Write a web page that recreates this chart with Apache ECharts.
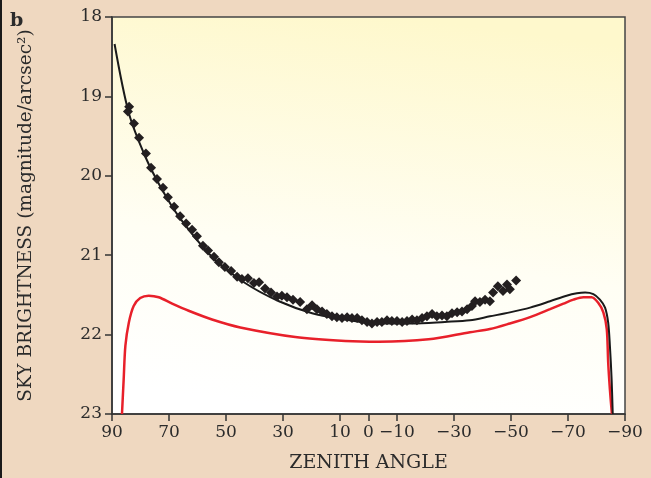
<!DOCTYPE html>
<html>
<head>
<meta charset="utf-8">
<script src="https://cdn.jsdelivr.net/npm/echarts@6/dist/echarts.min.js"></script>
<style>
  html, body { margin: 0; padding: 0; background: #efd8c0; }
  #chart { width: 651px; height: 478px; }
</style>
</head>
<body>
<div id="chart"></div>
<script>
// zenith angle ticks (90 on the left, -90 on the right)
const xTicks = [90, 70, 50, 30, 10, 0, -10, -30, -50, -70, -90]
const yMin = 18
const yMax = 23

// measured sky brightness [zenith angle, magnitude/arcsec^2]
const observed = [
  [84.0, 19.13], [84.4, 19.19], [82.3, 19.34], [80.5, 19.52], [78.1, 19.72],
  [76.3, 19.90], [74.2, 20.04], [72.1, 20.15], [70.4, 20.27], [68.2, 20.39],
  [66.1, 20.51], [64.0, 20.60], [61.9, 20.68], [60.2, 20.76], [58.1, 20.88],
  [56.3, 20.94], [54.2, 21.02], [52.5, 21.09], [50.4, 21.15], [48.2, 21.20],
  [46.1, 21.27], [44.4, 21.30], [42.3, 21.29], [40.2, 21.35], [38.4, 21.34],
  [36.3, 21.42], [34.2, 21.47], [32.1, 21.52], [30.4, 21.51], [28.6, 21.53],
  [26.5, 21.56], [24.0, 21.59], [21.6, 21.68], [19.8, 21.63], [18.1, 21.68],
  [16.3, 21.71], [14.6, 21.74], [12.8, 21.77], [11.1, 21.78], [9.3, 21.79],
  [7.5, 21.78], [5.8, 21.79], [4.0, 21.79], [2.3, 21.82], [0.5, 21.84],
  [-1.2, 21.86], [-3.0, 21.84], [-4.7, 21.84], [-6.5, 21.82], [-8.2, 21.83],
  [-10.0, 21.83], [-11.8, 21.84], [-13.5, 21.83], [-15.3, 21.81], [-17.0, 21.82],
  [-18.8, 21.79], [-20.5, 21.77], [-22.3, 21.74], [-24.0, 21.77], [-25.8, 21.76],
  [-27.5, 21.77], [-29.3, 21.73], [-31.1, 21.72], [-32.8, 21.71], [-34.6, 21.68],
  [-36.3, 21.64], [-37.4, 21.58], [-39.1, 21.59], [-40.9, 21.56], [-42.6, 21.58],
  [-43.7, 21.47], [-45.4, 21.39], [-47.2, 21.45], [-48.6, 21.37], [-49.6, 21.43],
  [-51.8, 21.32]
]

// model curve (black)
const modelBlack = [
  [89.1, 18.34], [84.1, 19.21], [78.3, 19.76], [72.5, 20.17], [66.6, 20.51],
  [54.9, 21.02], [43.3, 21.35], [31.4, 21.58], [19.8, 21.73], [8.2, 21.81],
  [-3.7, 21.86], [-15.3, 21.86], [-26.8, 21.84], [-35.6, 21.82], [-42.6, 21.77],
  [-49.6, 21.72], [-56.7, 21.66], [-63.7, 21.58], [-69.5, 21.51], [-73.1, 21.48],
  [-76.0, 21.47], [-78.9, 21.49], [-81.2, 21.56], [-83.0, 21.66], [-84.1, 21.85],
  [-84.7, 22.14], [-85.3, 22.56], [-85.7, 23.0]
]

// model curve (red)
const modelRed = [
  [86.5, 23.0], [85.9, 22.56], [85.3, 22.14], [84.1, 21.85], [82.4, 21.64],
  [80.1, 21.54], [77.1, 21.51], [73.6, 21.53], [68.9, 21.61], [63.1, 21.70],
  [54.9, 21.81], [45.0, 21.91], [25.7, 22.03], [8.1, 22.08], [-3.6, 22.09],
  [-21.1, 22.06], [-35.6, 21.97], [-42.6, 21.93], [-49.6, 21.86], [-56.7, 21.78],
  [-63.7, 21.68], [-68.4, 21.61], [-71.9, 21.56], [-75.4, 21.53], [-78.3, 21.53],
  [-80.6, 21.60], [-82.4, 21.72], [-83.6, 21.93], [-84.1, 22.35], [-84.7, 22.69],
  [-85.4, 23.0]
]

const font = 'DejaVu Serif'
const ink = '#2b2b2b'
const tickStyle = { color: '#333', width: 1.5 }

let chart = echarts.init(document.getElementById('chart'))

chart.setOption({
  backgroundColor: '#efd8c0',
  animation: false,
  graphic: [
    { type: 'rect', left: 0, top: 0, shape: { width: 2, height: 478 }, style: { fill: '#1a1a1a' } },
    { type: 'text', left: 10, top: 12, style: { text: 'b', font: 'bold 19px ' + font, fill: ink } }
  ],
  grid: {
    left: 112, right: 26, top: 17, bottom: 63,
    show: true,
    borderColor: '#444',
    borderWidth: 1.5,
    backgroundColor: {
      type: 'linear', x: 0.45, y: 1, x2: 0.55, y2: 0,
      colorStops: [
        { offset: 0, color: '#ffffff' },
        { offset: 0.4, color: '#fffef4' },
        { offset: 1, color: '#fef8cc' }
      ]
    }
  },
  xAxis: [
    {
      type: 'value',
      inverse: true,
      min: -90, max: 90, interval: 20,
      name: 'ZENITH ANGLE',
      nameLocation: 'middle',
      nameGap: 40,
      nameTextStyle: { fontFamily: font, fontSize: 19, color: ink },
      axisLine: { onZero: false, lineStyle: { color: '#333', width: 1.5 } },
      axisTick: { show: true, length: 7, lineStyle: tickStyle },
      axisLabel: {
        customValues: xTicks,
        margin: 10,
        fontFamily: font, fontSize: 17, color: ink,
        formatter: v => v < 0 ? '\u2212' + (-v) : String(v)
      },
      splitLine: { show: false }
    },
    {
      // only supplies the tick at 0
      type: 'value',
      position: 'bottom',
      inverse: true,
      min: -90, max: 90, interval: 90,
      axisLine: { show: false, onZero: false },
      axisTick: { show: true, length: 7, lineStyle: tickStyle },
      axisLabel: { show: false },
      splitLine: { show: false }
    }
  ],
  yAxis: {
    type: 'value',
    inverse: true,
    min: yMin, max: yMax, interval: 1,
    name: 'SKY BRIGHTNESS (magnitude/arcsec\u00b2)',
    nameLocation: 'middle',
    nameGap: 76,
    nameTextStyle: { fontFamily: font, fontSize: 18.5, color: ink },
    axisLine: { show: true, onZero: false, lineStyle: { color: '#333', width: 1.5 } },
    axisTick: { show: true, length: 7, lineStyle: tickStyle },
    axisLabel: { margin: 10, fontFamily: font, fontSize: 17, color: ink },
    splitLine: { show: false }
  },
  series: [
    {
      type: 'line',
      data: modelRed,
      smooth: 0.3,
      showSymbol: false,
      lineStyle: { color: '#e8202a', width: 2.5 },
      z: 2
    },
    {
      type: 'line',
      data: modelBlack,
      smooth: 0.3,
      showSymbol: false,
      lineStyle: { color: '#1a1a1a', width: 2 },
      z: 3
    },
    {
      type: 'scatter',
      data: observed,
      symbol: 'diamond',
      symbolSize: 10,
      itemStyle: { color: '#231f20', opacity: 1 },
      z: 4
    }
  ]
})
</script>
</body>
</html>
